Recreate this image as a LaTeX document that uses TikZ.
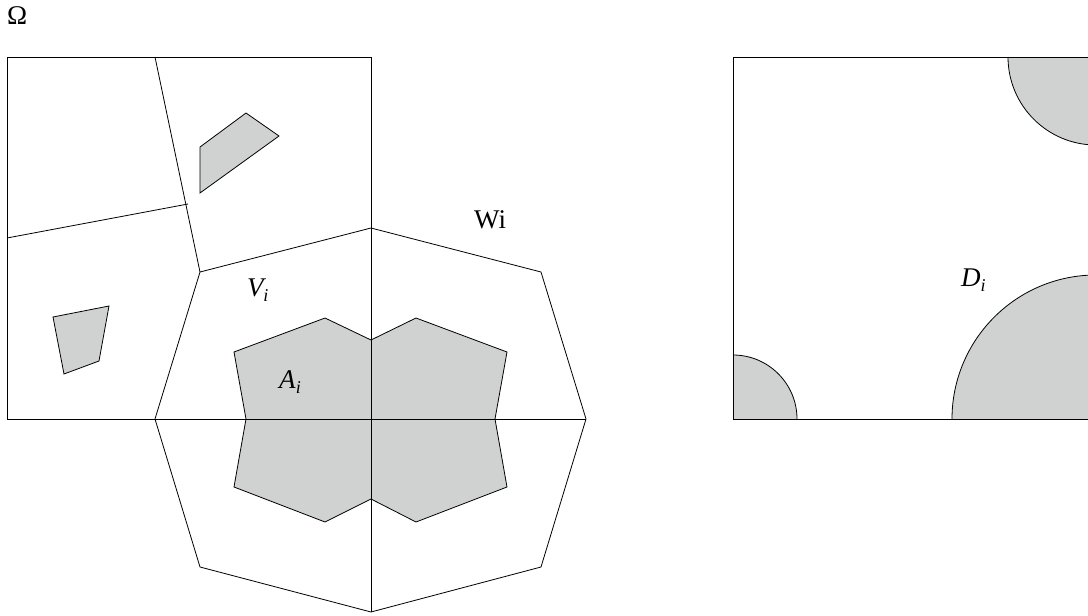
\documentclass[tikz,border=0pt]{standalone}
\usepackage{fontspec}
\setmainfont{Liberation Serif}
\definecolor{cellgray}{HTML}{D0D2D1}
\newcommand\withsub[2][0pt]{\textit{#2}\kern#1\raisebox{-0.22em}{\fontsize{18}{18}\selectfont\itshape i}}
\begin{document}
\begin{tikzpicture}[x=1pt,y=-1pt,
  edge/.style={draw=black,line width=0.8pt,line join=miter},
  blob/.style={fill=cellgray,draw=black,line width=0.8pt},
  lab/.style={inner sep=0pt,anchor=base west,font=\fontsize{27}{30}\selectfont}]
\useasboundingbox (0,0) rectangle (1088,616);
% left domain
\draw[edge] (7,57) rectangle (371,419);
\draw[edge] (155,57) -- (200,272);
\draw[edge] (7,238) -- (188,204);
\draw[blob] (200,147) -- (246,113) -- (279,136) -- (200,193) -- cycle;
\draw[blob] (53,317) -- (109,306) -- (99,361) -- (64,374) -- cycle;
% shaded A_i
\draw[blob] (234,352) -- (325,318) -- (371,340) -- (416,318) -- (507,352) -- (495,419)
  -- (507,487) -- (416,522) -- (371,499) -- (325,522) -- (234,487) -- (246,419) -- cycle;
% octagon W_i
\draw[edge] (200,272) -- (371,228) -- (541,272) -- (586,419) -- (541,567) -- (371,612)
  -- (200,567) -- (155,419) -- cycle;
\draw[edge] (371,228) -- (371,612);
\draw[edge] (7,419) -- (586,419);
% labels
\node[lab] (omega) at (7,24) {Ω};
\node[lab] (vi) at (247,296) {\withsub[-3pt]{V}};
\node[lab] (ai) at (279,388) {\withsub{A}};
\node[lab] (wi) at (474,228) {Wi};
% right domain
\begin{scope}
\clip (0,0) rectangle (1088,616);
\fill[cellgray] (733,355) arc[start angle=-90,end angle=0,radius=64] -- (733,419) -- cycle;
\fill[cellgray] (1008,57) arc[start angle=180,end angle=90,radius=88] -- (1096,57) -- cycle;
\fill[cellgray] (952,419) arc[start angle=180,end angle=270,radius=144] -- (1096,419) -- cycle;
\draw[edge] (733,355) arc[start angle=-90,end angle=0,radius=64];
\draw[edge] (1008,57) arc[start angle=180,end angle=90,radius=88];
\draw[edge] (952,419) arc[start angle=180,end angle=270,radius=144];
\draw[edge] (733,57) rectangle (1096,419);
\end{scope}
\node[lab] (di) at (961,286) {\withsub{D}};
\end{tikzpicture}
\end{document}
